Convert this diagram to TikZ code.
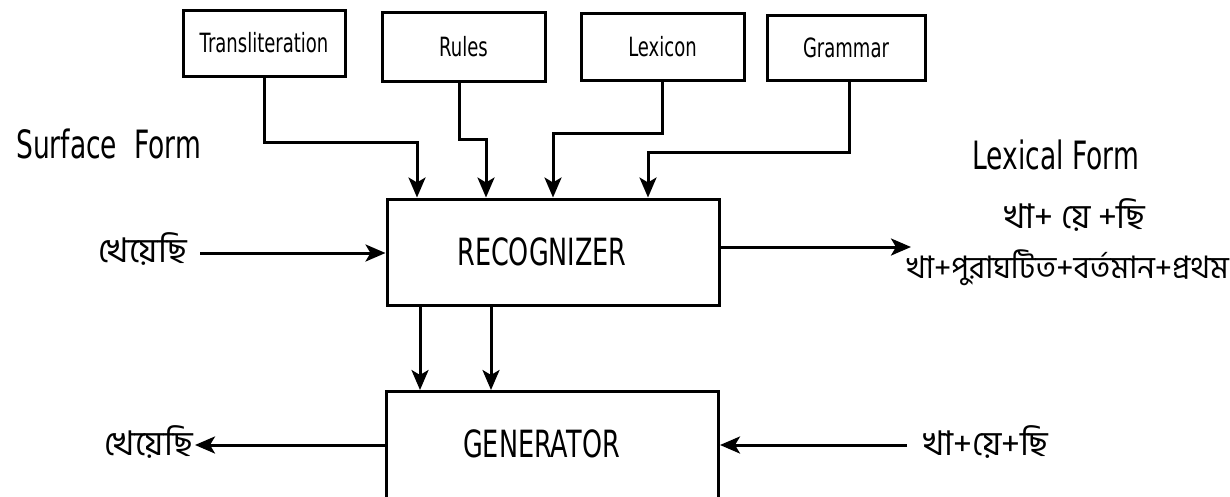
\documentclass[tikz,border=0pt]{standalone}
\usepackage{fontspec}
\setmainfont{DejaVu Sans}[FakeStretch=0.68]
\newfontfamily\bn[Script=Bengali]{Hind Siliguri}
\usetikzlibrary{arrows.meta}
\begin{document}
\begin{tikzpicture}[x=1pt,y=-1pt,
  box/.style={draw, line width=3pt, inner sep=0pt, font=\fontsize{26.5}{29}\selectfont},
  big/.style={draw, line width=3pt, inner sep=0pt, minimum width=332pt, font=\fontsize{37.5}{41}\selectfont},
  lbl/.style={font=\fontsize{39}{43}\selectfont, inner sep=0pt},
  bng/.style={font=\bn\fontsize{34}{38}\selectfont, inner sep=0pt},
  arr/.style={line width=3pt, -{Stealth[length=20pt,width=17pt,inset=5pt]}}]
\useasboundingbox (0,0) rectangle (1230,496);
% top boxes
\node[box, minimum width=162pt, minimum height=66pt] (tr) at (264,43) {Transliteration};
\node[box, minimum width=163pt, minimum height=69pt] (ru) at (463.5,46.5) {Rules};
\node[box, minimum width=163pt, minimum height=67pt] (lx) at (662.5,46.5) {Lexicon};
\node[box, minimum width=158pt, minimum height=65pt] (gr) at (846,47.5) {Grammar};
% main boxes
\node[big, minimum height=106pt] (rec) at (553,252) {RECOGNIZER\kern22pt};
\node[big, anchor=north, text height=66pt, text depth=100pt] (gen) at (552.5,390) {GENERATOR\kern22pt};
% labels
\node[lbl, anchor=base west] (sf) at (16,158) {Surface\hspace{17pt}Form};
\node[lbl, anchor=base west] (lf) at (972,169) {Lexical Form};
\node[bng, anchor=base east] (s1) at (187,262) {খেয়েছি};
\node[bng, anchor=base] (l1) at (1075,228) {খা+ য়ে +ছি};
\node[bng, anchor=base east, font=\bn\fontsize{31}{35}\selectfont] (l2) at (1229,278) {খা+পুরাঘটিত+বর্তমান+প্রথম};
\node[bng, anchor=base east] (s2) at (193,455) {খেয়েছি};
\node[bng, anchor=base west] (s3) at (923,455) {খা+য়ে+ছি};
% knowledge connectors
\coordinate (k1) at (417,142);
\coordinate (k2) at (486,139);
\coordinate (k3) at (553,133);
\coordinate (k4) at (648,152);
\draw[arr] (tr.south) |- (k1) -- (k1 |- rec.north);
\draw[arr] ([xshift=-4.5pt]ru.south) |- (k2) -- (k2 |- rec.north);
\draw[arr] (lx.south) |- (k3) -- (k3 |- rec.north);
\draw[arr] ([xshift=3pt]gr.south) |- (k4) -- (k4 |- rec.north);
% recognizer to generator
\coordinate (d1) at (420,350);
\coordinate (d2) at (491,350);
\draw[arr] (rec.south -| d1) -- (gen.north -| d1);
\draw[arr] (rec.south -| d2) -- (gen.north -| d2);
% input / output
\coordinate (a1) at (200,253);
\draw[arr] (a1) -- (a1 -| rec.west);
\coordinate (o1) at (911,247);
\draw[arr] (o1 -| rec.east) -- (o1);
\coordinate (a2) at (195,445);
\draw[arr] (a2 -| gen.west) -- (a2);
\coordinate (a3) at (907,445);
\draw[arr] (a3) -- (a3 -| gen.east);
\end{tikzpicture}
\end{document}
